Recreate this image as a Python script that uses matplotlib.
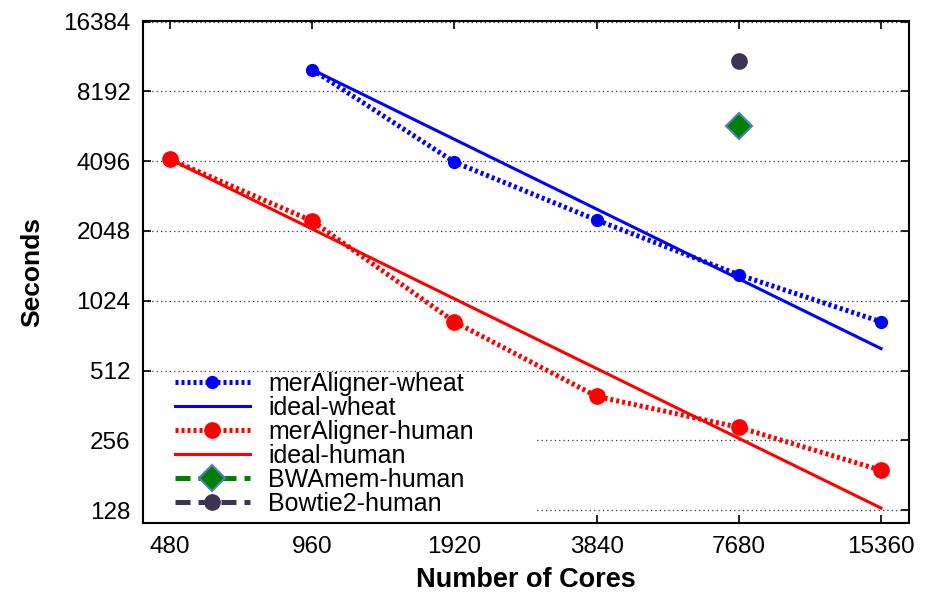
import matplotlib
matplotlib.use("Agg")
import matplotlib.pyplot as plt
from matplotlib.patches import Rectangle
from matplotlib.ticker import FixedLocator, FixedFormatter, NullLocator

plt.rcParams['font.family'] = ['Liberation Sans', 'DejaVu Sans']

# Scaling data (seconds vs. number of cores)
cores = [480, 960, 1920, 3840, 7680, 15360]
wheat_cores = [960, 1920, 3840, 7680, 15360]
wheat_time = [10185, 4060, 2283, 1325, 831]
human_time = [4177, 2262, 831, 396, 291, 190]
bwamem_cores = [7680]
bwamem_time = [5793]
bowtie_cores = [7680]
bowtie_time = [11140]
x_ticks = [480, 960, 1920, 3840, 7680, 15360]
y_ticks = [128, 256, 512, 1024, 2048, 4096, 8192, 16384]

# Ideal (linear) scaling from the first measured point
ideal_wheat = [wheat_time[0] * wheat_cores[0] / c for c in wheat_cores]
ideal_human = [human_time[0] * cores[0] / c for c in cores]

fig = plt.figure(figsize=(9.38, 5.95), dpi=100)
ax = fig.add_axes([0.1525, 0.121, 0.8165, 0.8437])

dot = (0, (0.6, 0.6))
ax.plot(wheat_cores, wheat_time, color='#0000ff', lw=3.6, ls=dot,
        marker='o', ms=8.5, label='merAligner-wheat', zorder=4)
ax.plot(wheat_cores, ideal_wheat, color='#0000ff', lw=2.2, ls='-',
        label='ideal-wheat', zorder=3)
ax.plot(cores, human_time, color='#ff0000', lw=3.6, ls=dot,
        marker='o', ms=11, label='merAligner-human', zorder=4)
ax.plot(cores, ideal_human, color='#ff0000', lw=2.2, ls='-',
        label='ideal-human', zorder=3)
ax.plot(bwamem_cores, bwamem_time, color='#007f00', lw=3.6, ls=(0, (3, 1.6)),
        marker='D', ms=13, mfc='#007f00', mec='#4f81bd', mew=1.5,
        label='BWAmem-human', zorder=5)
ax.plot(bowtie_cores, bowtie_time, color='#3d3454', lw=3.6, ls=(0, (3, 1.6)),
        marker='o', ms=11, mfc='#3d3454', mec='#3d3454',
        label='Bowtie2-human', zorder=5)

ax.set_xscale('log', base=2)
ax.set_yscale('log', base=2)
ax.set_xlim(421, 17600)
ax.set_ylim(112.5, 16500)

ax.xaxis.set_major_locator(FixedLocator(x_ticks))
ax.xaxis.set_major_formatter(FixedFormatter([str(v) for v in x_ticks]))
ax.yaxis.set_major_locator(FixedLocator(y_ticks))
ax.yaxis.set_major_formatter(FixedFormatter([str(v) for v in y_ticks]))
ax.xaxis.set_minor_locator(NullLocator())
ax.yaxis.set_minor_locator(NullLocator())

ax.tick_params(axis='both', which='major', direction='in', length=6, width=1.2,
               top=True, right=True, labelsize=17.5, pad=9)
for s in ax.spines.values():
    s.set_linewidth(1.5)

ax.yaxis.grid(True, ls=(0, (1, 2.5)), color='#333333', lw=0.9)
ax.set_axisbelow(True)

# white key area that hides the grid behind the legend
ax.add_patch(Rectangle((0, 0), 0.512, 0.30, transform=ax.transAxes,
                       facecolor='white', edgecolor='none', zorder=1))

ax.set_xlabel('Number of Cores', fontsize=19.5, fontweight='bold', labelpad=7)
ax.set_ylabel('Seconds', fontsize=19, fontweight='bold', labelpad=14)

leg = ax.legend(loc='upper left', bbox_to_anchor=(0.038, 0.306), fontsize=18,
                handlelength=3.0, handletextpad=0.75, labelspacing=0.0,
                frameon=False, borderpad=0.1, borderaxespad=0)

fig.savefig('out.png', dpi=100)
